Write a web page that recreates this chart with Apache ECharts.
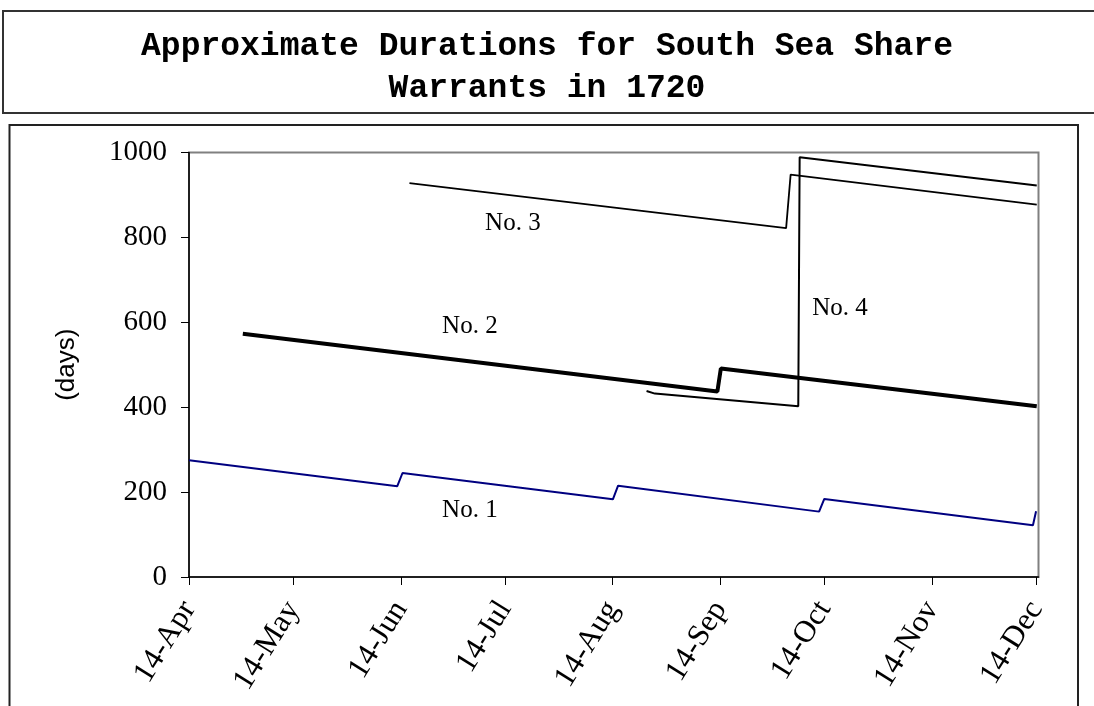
<!DOCTYPE html>
<html>
<head>
<meta charset="utf-8">
<script src="https://cdn.jsdelivr.net/npm/echarts@6/dist/echarts.min.js"></script>
<style>html,body{margin:0;padding:0;background:#fff}#c{width:1094px;height:706px}</style>
</head>
<body>
<div id="c"></div>
<script>
// x values are days counted from 14-Apr-1720
var tickLabels = ['14-Apr','14-May','14-Jun','14-Jul','14-Aug','14-Sep','14-Oct','14-Nov','14-Dec'];
var tickDays   = [0, 30, 61, 91, 122, 153, 183, 214, 244];

var no1Days   = [0, 60, 61.5, 122.1, 123.6, 181.5, 183, 243.1, 244];
var no1Values = [275, 214, 245, 183, 215, 154, 184, 122, 155];

var no2Days   = [15.5, 152.2, 153.2, 244.2];
var no2Values = [573, 437, 491, 402];

var no3Days   = [63.5, 172, 173.3, 244.2];
var no3Values = [928, 822, 948, 877];

var no4Days   = [131.8, 134.2, 175.5, 175.9, 244.2];
var no4Values = [438, 432, 402, 989, 922];

var seriesNames = ['No. 1', 'No. 2', 'No. 3', 'No. 4'];
var labelDays   = [80.9, 80.9, 93.3, 187.5];
var labelValues = [156, 590, 834, 633];

function zip(a, b) { return a.map(function (d, i) { return [d, b[i]]; }); }

var colors = ['#000080', '#000000', '#000000', '#000000'];
var widths = [2, 4, 1.8, 2];
var dataSets = [zip(no1Days, no1Values), zip(no2Days, no2Values), zip(no3Days, no3Values), zip(no4Days, no4Values)];

var series = dataSets.map(function (d, i) {
  return {
    name: seriesNames[i],
    type: 'line',
    data: d,
    symbol: 'none',
    smooth: false,
    lineStyle: { color: colors[i], width: widths[i] },
    markPoint: {
      symbol: 'circle', symbolSize: 0,
      silent: true,
      label: { show: true, position: 'inside', formatter: seriesNames[i],
               fontFamily: 'Liberation Serif', fontSize: 25, color: '#000' },
      data: [{ coord: [labelDays[i], labelValues[i]] }]
    },
    z: 3
  };
});

var chart = echarts.init(document.getElementById('c'), null, { renderer: 'canvas' });
chart.setOption({
  animation: false,
  backgroundColor: '#ffffff',
  title: {
    text: 'Approximate Durations for South Sea Share\nWarrants in 1720',
    left: 'center', top: 21,
    textStyle: { fontFamily: 'Liberation Mono', fontWeight: 'bold', fontSize: 33, lineHeight: 42, color: '#000' }
  },
  graphic: [
    { type: 'rect', shape: { x: 3, y: 11, width: 1100, height: 102 }, style: { fill: 'none', stroke: '#333', lineWidth: 2 }, z: -1 },
    { type: 'rect', shape: { x: 9.5, y: 125, width: 1068.5, height: 620 }, style: { fill: 'none', stroke: '#222', lineWidth: 2 }, z: -1 }
  ],
  grid: {
    left: 189, top: 152.5, width: 849.5, height: 424.5,
    show: true, borderColor: '#808080', borderWidth: 2, backgroundColor: 'transparent',
    containLabel: false, outerBoundsMode: 'none'
  },
  xAxis: {
    type: 'value', min: 0, max: 244.7,
    axisLine: { show: true, onZero: false, lineStyle: { color: '#000', width: 1.5 } },
    axisTick: { show: true, customValues: tickDays, length: 8, lineStyle: { color: '#000', width: 1 } },
    axisLabel: {
      customValues: tickDays, rotate: 58, margin: 27,
      fontFamily: 'Liberation Serif', fontSize: 31, color: '#000',
      formatter: function (v) { var i = tickDays.indexOf(Math.round(v)); return i >= 0 ? tickLabels[i] : ''; }
    },
    splitLine: { show: false }
  },
  yAxis: {
    type: 'value', min: 0, max: 1000, interval: 200,
    name: '(days)', nameLocation: 'middle', nameGap: 109, nameRotate: 90,
    nameTextStyle: { fontFamily: 'Liberation Sans', fontSize: 26, color: '#000' },
    axisLine: { show: true, lineStyle: { color: '#000', width: 1.5 } },
    axisTick: { show: true, length: 8, lineStyle: { color: '#000', width: 1 } },
    axisLabel: { margin: 22, fontFamily: 'Liberation Serif', fontSize: 29, color: '#000',
                 formatter: function (v) { return String(v); } },
    splitLine: { show: false }
  },
  series: series
});
</script>
</body>
</html>
